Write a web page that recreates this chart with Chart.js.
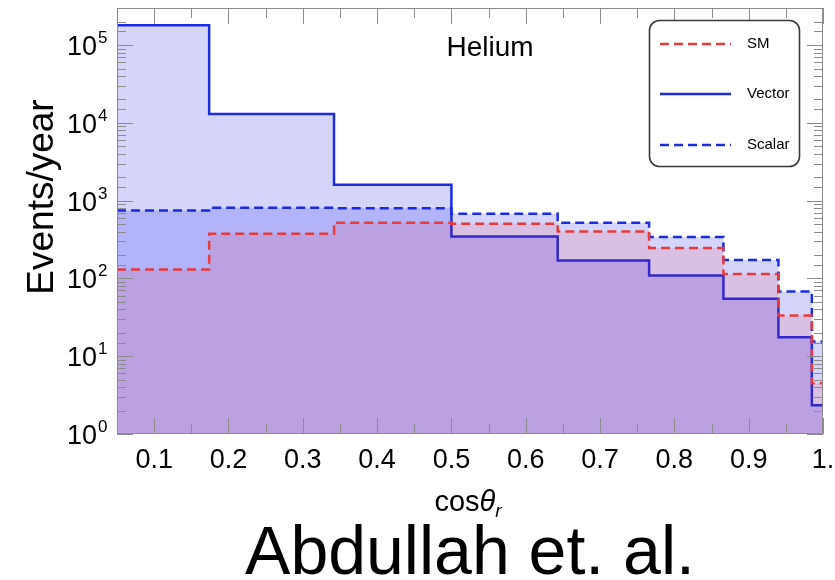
<!DOCTYPE html>
<html>
<head>
<meta charset="utf-8">
<script src="https://cdn.jsdelivr.net/npm/chart.js@4.4.1/dist/chart.umd.min.js"></script>
<style>
    html, body { margin: 0; padding: 0; background: #fff; }
    #cadre { position: relative; width: 835px; height: 580px; overflow: hidden; }
    #legende-auteur {
        position: absolute; left: 0; width: 940px; top: 511px;
        text-align: center; line-height: 68px;
        font: 68px "Liberation Sans", Arial, sans-serif; color: #000;
    }
</style>
</head>
<body>
<div id="cadre">
    <canvas id="graphe" width="835" height="580"></canvas>
    <div id="legende-auteur">Abdullah et. al.</div>
</div>
<script>
// ── Données ───────────────────────────────────────────────────────────
// bords des classes en cos(theta_r) (pas de 10° en angle)
const BORDS   = [0.05, 0.174, 0.342, 0.5, 0.643, 0.766, 0.866, 0.940, 0.985, 1.0];
const SM      = [130, 375, 520, 505, 400, 247, 114, 33.5, 4.5];
const VECTOR  = [180000, 13000, 1600, 345, 170, 109, 55, 17.5, 2.35];
const SCALAR  = [745, 810, 800, 680, 520, 340, 173, 68, 15.5];
const ETIQ_X  = ['0.1', '0.2', '0.3', '0.4', '0.5', '0.6', '0.7', '0.8', '0.9', '1.'];

const POLICE = '"Liberation Sans", Arial, sans-serif';
const BLEU   = 'rgb(28, 44, 226)';
const ROUGE  = 'rgb(232, 58, 58)';

/** Transforme une liste de hauteurs en points d'histogramme en escalier */
function escalier(valeurs) {
    const pts = valeurs.map((v, i) => ({ x: BORDS[i], y: v }));
    pts.push({ x: BORDS[BORDS.length - 1], y: valeurs[valeurs.length - 1] });
    return pts;
}

const estMajeurX = v => Math.round(v * 100) % 10 === 0 && v >= 0.099;
const estPuissance10 = v => Math.abs(Math.log10(v) - Math.round(Math.log10(v))) < 1e-9;

// ── Cadre, graduations et textes (style Mathematica) ─────────────────
const cadrePlugin = {
    id: 'cadre',
    afterDatasetsDraw(chart) {
        const { ctx, chartArea: a, scales: { x, y } } = chart;
        ctx.save();
        ctx.strokeStyle = '#8c8c8c';
        ctx.lineWidth = 1;
        ctx.beginPath();
        x.ticks.forEach(t => {
            const px = Math.round(x.getPixelForValue(t.value)) + 0.5;
            const l = estMajeurX(t.value) ? 16 : 10;
            ctx.moveTo(px, a.bottom); ctx.lineTo(px, a.bottom - l);
            ctx.moveTo(px, a.top);    ctx.lineTo(px, a.top + l);
        });
        y.ticks.forEach(t => {
            const py = Math.round(y.getPixelForValue(t.value)) + 0.5;
            const l = estPuissance10(t.value) ? 16 : 9;
            ctx.moveTo(a.left, py);  ctx.lineTo(a.left + l, py);
            ctx.moveTo(a.right, py); ctx.lineTo(a.right - l, py);
        });
        ctx.stroke();
        ctx.strokeRect(a.left + 0.5, a.top + 0.5, a.width - 1, a.height - 1);
        ctx.restore();
    },
    afterDraw(chart) {
        const { ctx, chartArea: a, scales: { x, y } } = chart;
        ctx.save();
        ctx.fillStyle = '#000';

        // étiquettes de l'axe X
        ctx.font = '27px ' + POLICE;
        ctx.textAlign = 'center';
        ctx.textBaseline = 'alphabetic';
        let k = 0;
        x.ticks.forEach(t => {
            if (!estMajeurX(t.value)) return;
            ctx.fillText(ETIQ_X[k++], x.getPixelForValue(t.value), a.bottom + 34);
        });

        // étiquettes de l'axe Y : 10^n
        y.ticks.forEach(t => {
            if (!estPuissance10(t.value)) return;
            const py = y.getPixelForValue(t.value);
            ctx.font = '27px ' + POLICE;
            ctx.textAlign = 'right';
            ctx.fillText('10', 97, py + 10);
            ctx.font = '17px ' + POLICE;
            ctx.textAlign = 'left';
            ctx.fillText(String(Math.round(Math.log10(t.value))), 98, py - 2);
        });

        // titre de l'axe Y
        ctx.save();
        ctx.translate(43, 197);
        ctx.rotate(-Math.PI / 2);
        ctx.font = '37px ' + POLICE;
        ctx.textAlign = 'center';
        ctx.textBaseline = 'middle';
        ctx.fillText('Events/year', 0, 0);
        ctx.restore();

        // titre de l'axe X : cos θ_r
        ctx.textAlign = 'left';
        const f1 = '29px ' + POLICE, f2 = 'italic 29px ' + POLICE, f3 = 'italic 19px ' + POLICE;
        ctx.font = f1; const w1 = ctx.measureText('cos').width;
        ctx.font = f2; const w2 = ctx.measureText('θ').width;
        ctx.font = f3; const w3 = ctx.measureText('r').width;
        let x0 = 468 - (w1 + w2 + w3) / 2;
        ctx.font = f1; ctx.fillText('cos', x0, 511); x0 += w1;
        ctx.font = f2; ctx.fillText('θ', x0, 511); x0 += w2;
        ctx.font = f3; ctx.fillText('r', x0, 517);

        // étiquette "Helium"
        ctx.font = '28px ' + POLICE;
        ctx.textAlign = 'center';
        ctx.fillText('Helium', 490, 56);

        // légende encadrée
        ctx.strokeStyle = '#3a3a3a';
        ctx.lineWidth = 1.6;
        ctx.beginPath();
        ctx.roundRect(649.5, 20.5, 150, 146, 10);
        ctx.fillStyle = '#fff';
        ctx.fill();
        ctx.stroke();
        const ordres = [44, 94, 145];
        chart.data.datasets.forEach((ds, i) => {
            const yy = ordres[i];
            ctx.strokeStyle = ds.borderColor;
            ctx.lineWidth = 2.5;
            ctx.setLineDash(ds.borderDash || []);
            ctx.beginPath();
            ctx.moveTo(660, yy); ctx.lineTo(731, yy);
            ctx.stroke();
            ctx.setLineDash([]);
            ctx.fillStyle = '#000';
            ctx.font = '15px ' + POLICE;
            ctx.textAlign = 'left';
            ctx.textBaseline = 'middle';
            ctx.fillText(ds.label, 747, yy);
        });
        ctx.restore();
    },
};

const trace = (label, valeurs, couleur, remplissage, pointille) => ({
    label,
    data: escalier(valeurs),
    borderColor: couleur,
    backgroundColor: remplissage,
    borderWidth: 2.5,
    borderDash: pointille ? [9, 5] : [],
    stepped: 'before',
    fill: 'start',
    pointRadius: 0,
    tension: 0,
});

new Chart(document.getElementById('graphe'), {
    type: 'line',
    data: {
        datasets: [
            trace('SM',     SM,     ROUGE, 'rgba(255, 0, 0, 0.10)', true),
            trace('Vector', VECTOR, BLEU,  'rgba(20, 20, 240, 0.18)', false),
            trace('Scalar', SCALAR, BLEU,  'rgba(20, 20, 240, 0.18)', true),
        ],
    },
    options: {
        responsive: false,
        animation: false,
        devicePixelRatio: 1,
        layout: { padding: { left: 117, top: 8, right: 12, bottom: 146 } },
        plugins: { legend: { display: false }, tooltip: { enabled: false } },
        scales: {
            x: {
                type: 'linear', min: 0.05, max: 1.0,
                ticks: { display: false, stepSize: 0.05 },
                grid: { display: false, drawTicks: false },
                border: { display: false },
            },
            y: {
                type: 'logarithmic', min: 1, max: 300000,
                ticks: { display: false },
                grid: { display: false, drawTicks: false },
                border: { display: false },
            },
        },
    },
    plugins: [cadrePlugin],
});
</script>
</body>
</html>
